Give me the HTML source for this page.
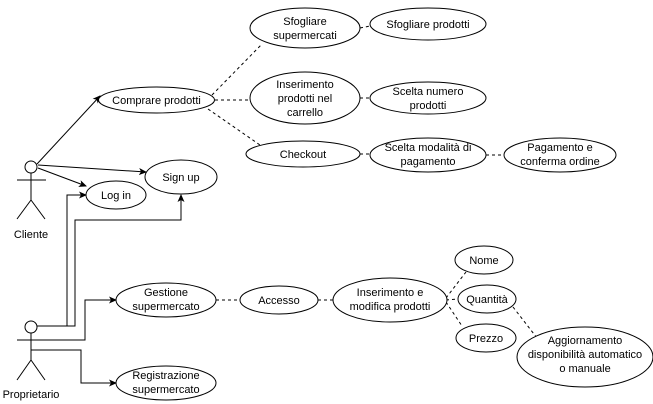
<!DOCTYPE html>
<html><head><meta charset="utf-8"><style>html,body{margin:0;padding:0;background:#fff}svg{display:block}</style></head>
<body>
<svg width="653" height="404" viewBox="0 0 653 404" xmlns="http://www.w3.org/2000/svg" font-family="Liberation Sans, Arial, sans-serif" font-size="11">
<defs><marker id="a" markerWidth="8" markerHeight="8" refX="7" refY="4" orient="auto" markerUnits="userSpaceOnUse"><path d="M0,0.5 L8,4 L0,7.5 L2,4 Z" fill="#000"/></marker></defs>
<g stroke="#000" fill="none" stroke-width="1">
<circle cx="31" cy="167" r="6" fill="#fff"/><line x1="31" y1="173" x2="31" y2="200"/><line x1="17" y1="180" x2="46" y2="180"/><line x1="31" y1="200" x2="17" y2="219"/><line x1="31" y1="200" x2="45" y2="219"/>
<circle cx="31" cy="327" r="6" fill="#fff"/><line x1="31" y1="333" x2="31" y2="360"/><line x1="17" y1="340" x2="46" y2="340"/><line x1="31" y1="360" x2="17" y2="380"/><line x1="31" y1="360" x2="45" y2="380"/>
<line x1="37" y1="164" x2="100" y2="96" marker-end="url(#a)"/>
<line x1="38" y1="165" x2="146" y2="172" marker-end="url(#a)"/>
<line x1="38" y1="168" x2="86" y2="186" marker-end="url(#a)"/>
<polyline points="37,326 67,326 67,195 86,195" marker-end="url(#a)"/>
<polyline points="37,326 75,326 75,220 181,220 181,195" marker-end="url(#a)"/>
<polyline points="17,340 85,340 85,300 116,300" marker-end="url(#a)"/>
<polyline points="31,350 81,350 81,383 116,383" marker-end="url(#a)"/>
<g stroke-dasharray="3,3">
<line x1="212" y1="95" x2="262" y2="44"/>
<line x1="215" y1="100" x2="250" y2="100"/>
<line x1="208" y1="109" x2="260" y2="145"/>
<line x1="360" y1="28" x2="370" y2="26"/>
<line x1="360" y1="98" x2="370" y2="98"/>
<line x1="360" y1="154" x2="370" y2="154"/>
<line x1="486" y1="155" x2="505" y2="155"/>
<line x1="216" y1="300" x2="240" y2="300"/>
<line x1="318" y1="300" x2="333" y2="300"/>
<line x1="446" y1="298" x2="466" y2="272"/>
<line x1="446" y1="300" x2="458" y2="299"/>
<line x1="446" y1="302" x2="462" y2="326"/>
<line x1="513" y1="307" x2="537" y2="338"/>
</g>
<g fill="#fff">
<ellipse cx="156.5" cy="100" rx="58" ry="13"/>
<ellipse cx="305" cy="28" rx="55" ry="20"/>
<ellipse cx="428" cy="24" rx="58" ry="16"/>
<ellipse cx="305" cy="98" rx="55" ry="26"/>
<ellipse cx="428" cy="98" rx="58" ry="16"/>
<ellipse cx="303" cy="154" rx="57" ry="13"/>
<ellipse cx="428" cy="155" rx="58" ry="17"/>
<ellipse cx="560" cy="155" rx="56" ry="17"/>
<ellipse cx="181" cy="177" rx="36" ry="17"/>
<ellipse cx="116" cy="195" rx="30" ry="14"/>
<ellipse cx="166" cy="300" rx="50" ry="17"/>
<ellipse cx="279" cy="300" rx="39" ry="14"/>
<ellipse cx="390" cy="300" rx="57" ry="22"/>
<ellipse cx="484" cy="260" rx="29" ry="14"/>
<ellipse cx="487" cy="299" rx="29" ry="14"/>
<ellipse cx="486" cy="338" rx="30" ry="14"/>
<ellipse cx="585" cy="357" rx="68" ry="30"/>
<ellipse cx="166" cy="383" rx="50" ry="17"/>
</g>
</g>
<g text-anchor="middle" fill="#000">
<text x="31" y="238">Cliente</text>
<text x="31" y="398">Proprietario</text>
<text x="156.5" y="104">Comprare prodotti</text>
<text x="305" y="25">Sfogliare</text><text x="305" y="39">supermercati</text>
<text x="428" y="28">Sfogliare prodotti</text>
<text x="305" y="88">Inserimento</text><text x="305" y="102">prodotti nel</text><text x="305" y="116">carrello</text>
<text x="428" y="95">Scelta numero</text><text x="428" y="109">prodotti</text>
<text x="303" y="158">Checkout</text>
<text x="428" y="151">Scelta modalità di</text><text x="428" y="165">pagamento</text>
<text x="560" y="151">Pagamento e</text><text x="560" y="165">conferma ordine</text>
<text x="181" y="181">Sign up</text>
<text x="116" y="199">Log in</text>
<text x="166" y="296">Gestione</text><text x="166" y="310">supermercato</text>
<text x="279" y="304">Accesso</text>
<text x="390" y="296">Inserimento e</text><text x="390" y="310">modifica prodotti</text>
<text x="484" y="264">Nome</text>
<text x="487" y="303">Quantità</text>
<text x="486" y="342">Prezzo</text>
<text x="585" y="344">Aggiornamento</text><text x="585" y="358">disponibilità automatico</text><text x="585" y="372">o manuale</text>
<text x="166" y="379">Registrazione</text><text x="166" y="393">supermercato</text>
</g>
</svg>
</body></html>
